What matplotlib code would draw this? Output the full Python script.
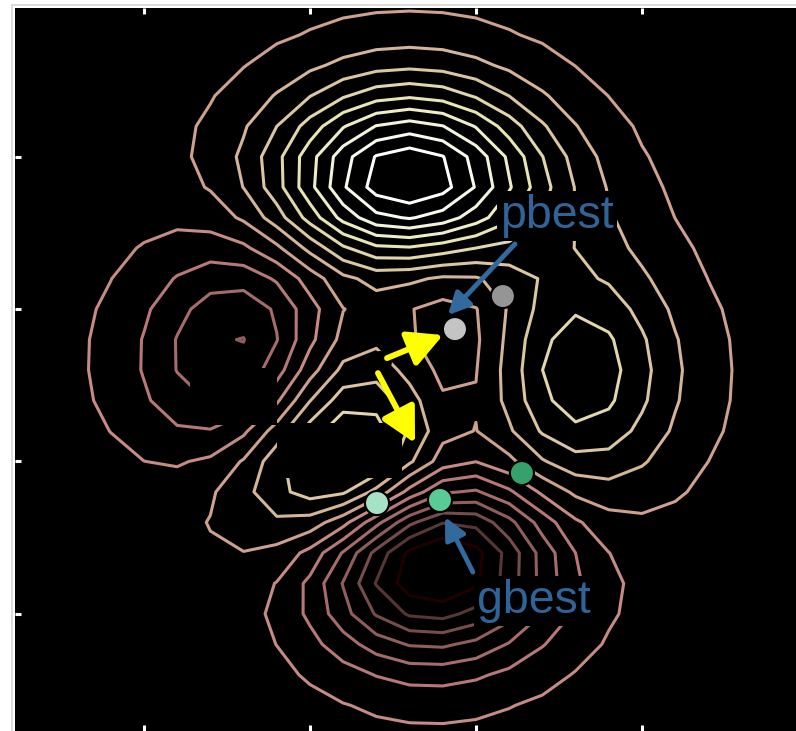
import numpy as np
import matplotlib
matplotlib.use("Agg")
import matplotlib.pyplot as plt
from matplotlib.patches import Rectangle, Circle
from matplotlib.lines import Line2D

# ---- data ----
grid_n = 25
grid_range = [-3.0, 3.0]
contour_levels = [-5.484, -4.641, -3.799, -2.956, -2.114, -1.271, -0.429, 0.414,
                  1.256, 2.099, 2.941, 3.784, 4.626, 5.469, 6.312, 7.154]

particle_x = [0.342, 0.703, -0.245, 0.229, 0.846]
particle_y = [0.336, 0.607, -1.091, -1.066, -0.845]
particle_colors = ['#c4c4c4', '#959595', '#a6e3c6', '#5acb94', '#35a26c']

vel_start_x = [-0.170, -0.238]
vel_start_y = [0.098, -0.025]
vel_end_x = [0.252, 0.041]
vel_end_y = [0.287, -0.599]

label_text = ['pbest', 'gbest']
label_x = [0.681, 0.508]
label_y = [1.165, -1.993]
label_arrow_start_x = [0.794, 0.477]
label_arrow_start_y = [1.034, -1.657]
label_arrow_end_x = [0.289, 0.267]
label_arrow_end_y = [0.451, -1.206]

mask_boxes = [(-1.654, -0.451, 0.656, 0.467), (-0.998, -0.886, 0.941, 0.451)]
mask_circle = (-0.223, 0.066, 0.09)

ticks = [-2.0, -0.75, 0.5, 1.75]
xlim = [-2.971, 2.910]
ylim = [-2.961, 2.970]

# ---- figure ----
W, H = 796, 731
fig = plt.figure(figsize=(W / 100, H / 100), dpi=100)
fig.patch.set_facecolor('white')
ax = fig.add_axes([15 / W, 0, (W - 15) / W, (H - 8) / H])
ax.set_facecolor('black')

g = np.linspace(grid_range[0], grid_range[1], grid_n)
X, Y = np.meshgrid(g, g)
Z = (3 * (1 - X) ** 2 * np.exp(-X ** 2 - (Y + 1) ** 2)
     - 10 * (X / 5 - X ** 3 - Y ** 5) * np.exp(-X ** 2 - Y ** 2)
     - 1 / 3 * np.exp(-(X + 1) ** 2 - Y ** 2))

ax.contour(X, Y, Z, levels=contour_levels, cmap='pink',
           vmin=contour_levels[0], vmax=contour_levels[-1],
           linewidths=2.2, zorder=1)

for (x0, y0, w, h) in mask_boxes:
    ax.add_patch(Rectangle((x0, y0), w, h, facecolor='black', edgecolor='none', zorder=2))
ax.add_patch(Circle(mask_circle[:2], mask_circle[2], facecolor='black', edgecolor='none', zorder=2))

for sx, sy, ex, ey in zip(vel_start_x, vel_start_y, vel_end_x, vel_end_y):
    ax.annotate('', xy=(ex, ey), xytext=(sx, sy),
                arrowprops=dict(arrowstyle='-|>,head_length=2.1,head_width=1.1',
                                color='#ffff00', lw=4.2, shrinkA=0, shrinkB=0),
                zorder=3)

ax.scatter(particle_x, particle_y, s=300, c=particle_colors,
           edgecolors='black', linewidths=1.5, zorder=4)

for t, tx, ty, sx, sy, ex, ey in zip(label_text, label_x, label_y,
                                     label_arrow_start_x, label_arrow_start_y,
                                     label_arrow_end_x, label_arrow_end_y):
    ax.text(tx, ty, t, color='#2f6499', fontsize=33.5, family='Liberation Sans',
            ha='left', va='baseline', zorder=5,
            bbox=dict(facecolor='black', edgecolor='none', pad=2.5))
    ax.annotate('', xy=(ex, ey), xytext=(sx, sy),
                arrowprops=dict(arrowstyle='-|>,head_length=1.3,head_width=0.65',
                                color='#336a9e', lw=3.5, shrinkA=0, shrinkB=0),
                zorder=5)

ax.set_xlim(xlim)
ax.set_ylim(ylim)
ax.set_xticks(ticks)
ax.set_yticks(ticks)
ax.tick_params(axis='both', which='both', direction='in', colors='white',
               length=4.5, width=2.2, top=True, bottom=True, left=True, right=False,
               labelbottom=False, labelleft=False)
for s in ax.spines.values():
    s.set_visible(False)

fig.add_artist(Line2D([12 / W, 12 / W], [0, 1 - 4.8 / H], color='#d8d8d8', lw=1.3))
fig.add_artist(Line2D([12 / W, 1], [1 - 4.8 / H, 1 - 4.8 / H], color='#d8d8d8', lw=1.3))

fig.savefig('out.png', dpi=100, facecolor='white')
